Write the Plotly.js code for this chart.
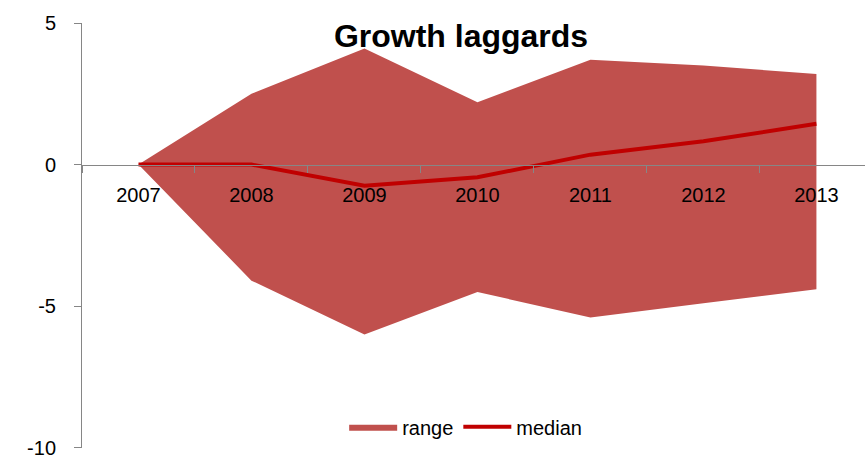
<!DOCTYPE html>
<html>
<head>
<meta charset="utf-8">
<script src="https://cdn.plot.ly/plotly-3.0.1.min.js"></script>
<style>html,body{margin:0;padding:0;background:#fff;}#chart{width:865px;height:458px;}</style>
</head>
<body>
<div id="chart"></div>
<script>
const years = ["2007","2008","2009","2010","2011","2012","2013"];
const rangeUpper = [0, 2.5, 4.1, 2.2, 3.7, 3.5, 3.2];
const rangeLower = [0, -4.1, -6.0, -4.5, -5.4, -4.9, -4.4];
const median = [0, 0, -0.75, -0.45, 0.35, 0.82, 1.44];
const yTicks = [5, 0, -5, -10];

const polyX = years.concat(years.slice().reverse());
const polyY = rangeUpper.concat(rangeLower.slice().reverse());

const traces = [
  {
    x: polyX, y: polyY, type: 'scatter', mode: 'lines', name: 'range',
    fill: 'toself', fillcolor: '#C0504D', line: {width: 0, color: '#C0504D'},
    hoverinfo: 'skip'
  },
  {
    x: years, y: median, type: 'scatter', mode: 'lines', name: 'median',
    line: {width: 4, color: '#C00000'}
  }
];

const layout = {
  width: 865, height: 458,
  margin: {l: 82, r: 0, t: 23, b: 10, pad: 0},
  paper_bgcolor: '#fff', plot_bgcolor: 'rgba(0,0,0,0)',
  font: {family: '"Liberation Sans", Arial, sans-serif', color: '#000', size: 20},
  title: {
    text: '<b>Growth laggards</b>',
    font: {family: '"Liberation Sans", Arial, sans-serif', size: 32, color: '#000'},
    x: 461/865, xref: 'container', xanchor: 'center',
    y: 1 - 36/458, yref: 'container', yanchor: 'middle'
  },
  showlegend: true,
  legend: {
    orientation: 'h', x: 0.49, xanchor: 'center', y: 0.05, yanchor: 'middle',
    itemwidth: 48,
    font: {size: 20, color: '#000'}, bgcolor: 'rgba(0,0,0,0)'
  },
  xaxis: {
    type: 'category', categoryorder: 'array', categoryarray: years,
    range: [-0.5, 6.43],
    anchor: 'free', position: 10/15,
    showline: true, linecolor: '#868686', linewidth: 1,
    ticks: 'outside', tickson: 'boundaries', ticklen: 7, tickcolor: '#868686',
    ticklabelstandoff: 12,
    showgrid: false, zeroline: false,
    tickfont: {size: 20, color: '#000'}
  },
  yaxis: {
    range: [-10.01, 5], tickvals: yTicks, ticktext: yTicks.map(String),
    showline: true, linecolor: '#868686', linewidth: 1,
    ticks: 'outside', ticklen: 7, tickcolor: '#868686',
    ticklabelstandoff: 14, ticklabeloverflow: 'allow',
    showgrid: false, zeroline: false,
    tickfont: {size: 20, color: '#000'}
  }
};

Plotly.newPlot('chart', traces, layout, {displayModeBar: false, staticPlot: true});
</script>
</body>
</html>
